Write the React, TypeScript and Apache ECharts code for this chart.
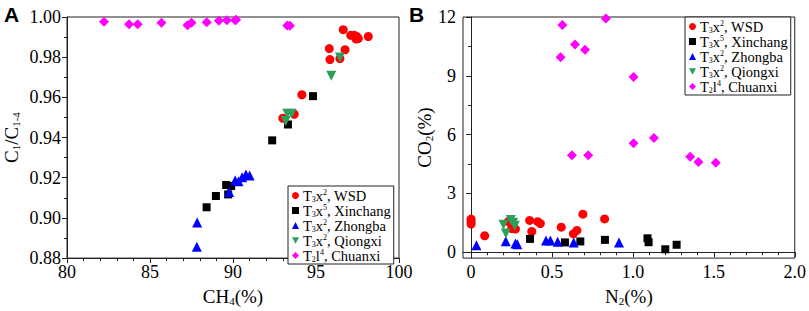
import React, { useEffect, useRef } from "react";
import * as echarts from "echarts";

// ---- Panel A: CH4 (%) vs C1/C1-4 ----
const wsdCH4 = [96.64, 97.09, 97.31, 97.45, 97.41, 97.55, 98.15, 95.8, 96.75, 95.84, 96.44, 94.15, 93.0, 93.69];
const wsdC1 = [0.9937, 0.9909, 0.9909, 0.9903, 0.989, 0.9893, 0.9903, 0.9843, 0.9837, 0.9788, 0.9793, 0.9613, 0.9496, 0.9516];
const xinCH4 = [94.82, 93.31, 92.36, 89.59, 89.89, 89.71, 88.97, 88.41];
const xinC1 = [0.9606, 0.9465, 0.9386, 0.9164, 0.9159, 0.9117, 0.9109, 0.9053];
const zhoCH4 = [87.84, 87.82, 89.77, 90.13, 90.33, 90.55, 90.78, 91.0];
const zhoC1 = [0.8977, 0.8857, 0.9129, 0.9187, 0.9182, 0.9203, 0.9216, 0.9211];
const qioCH4 = [96.44, 95.92, 93.27, 93.53, 93.17];
const qioC1 = [0.9798, 0.9708, 0.9519, 0.9519, 0.9482];
const chuCH4 = [82.23, 83.74, 84.26, 85.69, 87.26, 87.5, 88.42, 89.15, 89.63, 90.13, 90.19, 93.27, 93.43];
const chuC1 = [0.9976, 0.9964, 0.9964, 0.9971, 0.9959, 0.9971, 0.9974, 0.9981, 0.9984, 0.9984, 0.9986, 0.9958, 0.9957];

// ---- Panel B: N2 (%) vs CO2 (%) ----
const wsdN2 = [0, 0, 0, 0.084, 0.23, 0.251, 0.274, 0.362, 0.375, 0.412, 0.428, 0.557, 0.632, 0.654, 0.691, 0.825];
const wsdCO2 = [1.69, 1.57, 1.44, 0.84, 1.56, 1.21, 1.18, 1.62, 1.06, 1.56, 1.46, 1.28, 0.94, 1.11, 1.94, 1.7];
const xinN2 = [0.364, 0.58, 0.675, 0.827, 1.09, 1.097, 1.2, 1.27];
const xinCO2 = [0.68, 0.5, 0.55, 0.63, 0.71, 0.51, 0.15, 0.38];
const zhoN2 = [0.033, 0.214, 0.274, 0.286, 0.463, 0.49, 0.535, 0.634, 0.914];
const zhoCO2 = [0.35, 0.56, 0.45, 0.41, 0.6, 0.6, 0.53, 0.5, 0.5];
const qioN2 = [0.2, 0.215, 0.245, 0.26, 0.27];
const qioCO2 = [1.4, 0.95, 1.65, 1.5, 1.35];
const chuN2 = [0.564, 0.833, 0.642, 0.704, 0.553, 1.004, 1.004, 1.13, 0.623, 0.724, 1.354, 1.405, 1.512];
const chuCO2 = [11.59, 11.92, 10.6, 10.33, 9.95, 8.94, 5.56, 5.83, 4.95, 4.95, 4.87, 4.6, 4.57];

// ---- ticks ----
const aXTicks = [80, 85, 90, 95, 100];
const aYTicks = [0.88, 0.9, 0.92, 0.94, 0.96, 0.98, 1.0];
const bXTicks = [0, 0.5, 1.0, 1.5, 2.0];
const bXMinor = [0.1, 0.2, 0.3, 0.4, 0.6, 0.7, 0.8, 0.9, 1.1, 1.2, 1.3, 1.4, 1.6, 1.7, 1.8, 1.9];
const bYTicks = [0, 3, 6, 9, 12];
const bYMinor = [1.5, 4.5, 7.5, 10.5];

const seriesNames = ["WSD", "Xinchang", "Zhongba", "Qiongxi", "Chuanxi"];
const legendRich: Record<string, string> = {
  WSD: "{n|T}{s|3}{n|x}{p|2}{n|, WSD}",
  Xinchang: "{n|T}{s|3}{n|x}{p|5}{n|, Xinchang}",
  Zhongba: "{n|T}{s|3}{n|x}{p|2}{n|, Zhongba}",
  Qiongxi: "{n|T}{s|3}{n|x}{p|2}{n|, Qiongxi}",
  Chuanxi: "{n|T}{s|2}{n|l}{p|4}{n|, Chuanxi}",
};

const FONT = "Liberation Serif";
const INV_TRI = "path://M0,0 L10,0 L5,9 Z";
const colors = ["#ff0000", "#000000", "#0000ff", "#2e9e5b", "#ff00ff"];
const symbols = ["circle", "rect", "triangle", INV_TRI, "diamond"];
const sizes = [9, 8, 10, 10, 10];

const zip = (a: number[], b: number[]) => a.map((v, i) => [v, b[i]]);

export default function App() {
  const ref = useRef<HTMLDivElement>(null);
  useEffect(() => {
    if (!ref.current) return;
    const chart = echarts.init(ref.current, null, { renderer: "svg" });
    const axisLine = { show: true, lineStyle: { color: "#222", width: 1 } };
    const tickRich = { t: { fontFamily: FONT, fontSize: 18, color: "#000" } };
    const labelStyle = { color: "#000", fontFamily: FONT, fontSize: 18, rich: tickRich };
    const nameRich = {
      n: { fontFamily: FONT, fontSize: 19, color: "#000", lineHeight: 20 },
      s: { fontFamily: FONT, fontSize: 11, color: "#000", lineHeight: 11, verticalAlign: "bottom" },
    };
    const legendBase = {
      orient: "vertical",
      backgroundColor: "#fff",
      borderColor: "#222",
      borderWidth: 1,
      padding: [2, 3, 1, 4],
      itemGap: 0,
      itemWidth: 7,
      itemHeight: 7,
      formatter: (n: string) => legendRich[n],
      textStyle: {
        fontFamily: FONT,
        color: "#000",
        padding: [0, 0, 0, -1],
        rich: {
          n: { fontFamily: FONT, fontSize: 14.5, color: "#000", lineHeight: 15 },
          s: { fontFamily: FONT, fontSize: 8, color: "#000", lineHeight: 8, verticalAlign: "bottom" },
          p: { fontFamily: FONT, fontSize: 8, color: "#000", lineHeight: 8, verticalAlign: "top" },
        },
      },
      data: seriesNames.map((n, i) => ({ name: n, icon: symbols[i] })),
    };

    const dataA = [zip(wsdCH4, wsdC1), zip(xinCH4, xinC1), zip(zhoCH4, zhoC1), zip(qioCH4, qioC1), zip(chuCH4, chuC1)];
    const dataB = [zip(wsdN2, wsdCO2), zip(xinN2, xinCO2), zip(zhoN2, zhoCO2), zip(qioN2, qioCO2), zip(chuN2, chuCO2)];

    const mk = (data: number[][][], xi: number, yi: number) =>
      data.map((d, i) => ({
        type: "scatter",
        name: seriesNames[i],
        xAxisIndex: xi,
        yAxisIndex: yi,
        data: d,
        symbol: symbols[i],
        symbolSize: sizes[i],
        itemStyle: { color: colors[i], opacity: 1 },
        clip: false,
      }));

    chart.setOption({
      animation: false,
      backgroundColor: "#fff",
      textStyle: { fontFamily: FONT },
      graphic: [
        { type: "text", left: 4, top: 4, style: { text: "A", font: "bold 21px 'Liberation Sans', Arial, sans-serif", fill: "#000" } },
        { type: "text", left: 409, top: 4, style: { text: "B", font: "bold 21px 'Liberation Sans', Arial, sans-serif", fill: "#000" } },
      ],
      grid: [
        { left: 67, top: 17, width: 332, height: 248, show: true, borderColor: "#222", borderWidth: 1, backgroundColor: "transparent" },
        { left: 463, top: 17, width: 332, height: 248, show: true, borderColor: "#222", borderWidth: 1, backgroundColor: "transparent" },
      ],
      legend: [
        { ...legendBase, left: 288, top: 186 },
        { ...legendBase, left: 685, top: 17 },
      ],
      xAxis: [
        {
          gridIndex: 0, type: "value", min: 80, max: 100, interval: 5, position: "bottom",
          axisLine, splitLine: { show: false },
          axisTick: { show: true, length: 5, lineStyle: { color: "#222" } },
          minorTick: { show: true, splitNumber: 5, length: 3, lineStyle: { color: "#222" } },
          axisLabel: { ...labelStyle, margin: 5, customValues: aXTicks, formatter: (v: number) => `{t|${v}}` },
          name: "{n|CH}{s|4}{n|(%)}", nameLocation: "middle", nameGap: 24,
          nameTextStyle: { ...nameRich.n, rich: nameRich },
        },
        {
          gridIndex: 1, type: "value", min: -0.05, max: 2.0, position: "bottom",
          axisLine, splitLine: { show: false },
          axisTick: { show: true, length: 5, customValues: bXTicks, lineStyle: { color: "#222" } },
          axisLabel: { ...labelStyle, margin: 5, customValues: bXTicks, formatter: (v: number) => `{t|${v === 0 ? "0" : v.toFixed(1)}}` },
          name: "{n|N}{s|2}{n|(%)}", nameLocation: "middle", nameGap: 24,
          nameTextStyle: { ...nameRich.n, rich: nameRich },
        },
        {
          gridIndex: 1, type: "value", min: -0.05, max: 2.0, position: "bottom",
          axisLine: { show: false }, splitLine: { show: false },
          axisTick: { show: true, length: 3, customValues: bXMinor, lineStyle: { color: "#222" } },
          axisLabel: { show: false },
        },
      ],
      yAxis: [
        {
          gridIndex: 0, type: "value", min: 0.88, max: 1.0, interval: 0.02, position: "left",
          axisLine, splitLine: { show: false },
          axisTick: { show: true, length: 5, lineStyle: { color: "#222" } },
          minorTick: { show: true, splitNumber: 2, length: 3, lineStyle: { color: "#222" } },
          axisLabel: { ...labelStyle, margin: 6, customValues: aYTicks, formatter: (v: number) => `{t|${v.toFixed(2)}}` },
          name: "{n|C}{s|1}{n|/C}{s|1-4}", nameLocation: "middle", nameGap: 46,
          nameTextStyle: { ...nameRich.n, rich: nameRich },
        },
        {
          gridIndex: 1, type: "value", min: -0.3, max: 12, position: "left",
          axisLine, splitLine: { show: false },
          axisTick: { show: true, length: 5, customValues: bYTicks, lineStyle: { color: "#222" } },
          axisLabel: { ...labelStyle, margin: 7, customValues: bYTicks, formatter: (v: number) => `{t|${v}}` },
          name: "{n|CO}{s|2}{n|(%)}", nameLocation: "middle", nameGap: 22,
          nameTextStyle: { ...nameRich.n, rich: nameRich },
        },
        {
          gridIndex: 1, type: "value", min: -0.3, max: 12, position: "left",
          axisLine: { show: false }, splitLine: { show: false },
          axisTick: { show: true, length: 3, customValues: bYMinor, lineStyle: { color: "#222" } },
          axisLabel: { show: false },
        },
      ],
      series: [...mk(dataA, 0, 0), ...mk(dataB, 1, 1)],
    });
    return () => chart.dispose();
  }, []);
  return <div ref={ref} style={{ position: "fixed", left: 0, top: 0, width: 809, height: 311 }} />;
}
